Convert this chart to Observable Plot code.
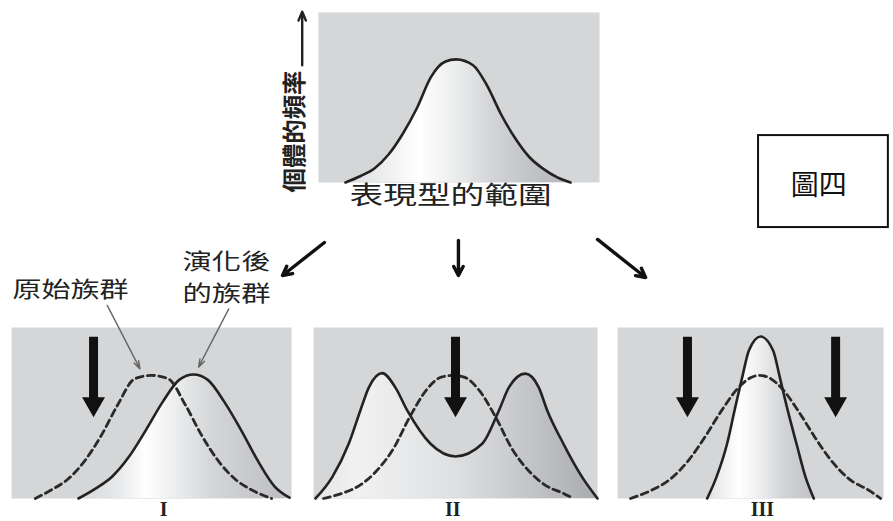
<!DOCTYPE html>
<html>
<head>
<meta charset="utf-8">
<script src="https://cdn.jsdelivr.net/npm/d3@7"></script>
<script src="https://cdn.jsdelivr.net/npm/@observablehq/plot@0.6"></script>
<style>
  body { margin: 0; background: #fff; }
  #chart { position: relative; width: 893px; height: 521px; overflow: hidden; background: #fff; }
  #chart svg { position: absolute; left: 0; top: 0; }
</style>
</head>
<body>
<div id="chart"></div>
<script>
// ---------------- data ----------------
const yLabel = "個體的頻率";
const xLabel = "表現型的範圍";
const figLabel = "圖四";
const origLabel = "原始族群";
const evolvedLabel1 = "演化後";
const evolvedLabel2 = "的族群";
const panelLabels = ["I", "II", "III"];

// top panel: phenotype range (0-100) vs frequency (0-100)
const topX = [9.6, 15, 20, 25, 30, 35, 40, 45, 49, 55, 60, 65, 70, 75, 80, 85, 89.7];
const topY = [0, 3.8, 8.4, 16.6, 28.7, 43.7, 62, 71, 72.4, 69, 57, 40, 26, 15, 8, 3, 0];

// panel I (directional selection)
const p1DashX = [8.5, 14, 20, 26, 32, 38, 44, 50, 56, 62, 68, 74, 80, 86, 92.9];
const p1DashY = [0, 4.8, 11.1, 21.7, 36.7, 55, 70, 72, 70, 55, 36.7, 21.7, 11.1, 4.8, 0];
const p1SolidX = [23.9, 30, 36, 42, 48, 54, 60, 65, 70, 76, 82, 88, 94, 99.3];
const p1SolidY = [0, 5.8, 12.9, 24.5, 40, 56.5, 69.5, 72.5, 69.5, 56.5, 40, 22, 7, 0.5];
const p1ArrowX = [29.3];

// panel II (disruptive selection)
const p2DashX = [3.5, 10, 16, 22, 28, 34, 40, 45, 49, 53, 58, 64, 70, 76, 82, 88, 91.5];
const p2DashY = [0, 3, 7.4, 15.8, 28.8, 48, 64, 71, 72, 71, 64, 48, 28.8, 15.8, 7.4, 3, 0];
const p2SolidX = [0.7, 6.6, 12.4, 16.5, 19.5, 24.2, 28.8, 33, 41.2, 50, 59.4, 65.3, 68.8, 74.6, 79.3, 82.3, 88, 94.6, 100];
const p2SolidY = [0, 12.5, 32, 51.5, 65, 73.3, 65, 51.5, 32, 24.6, 32, 51.5, 65, 73, 65, 51.5, 32, 12.5, 0];
const p2ArrowX = [50];

// panel III (stabilizing selection)
const p3DashX = [4.9, 12, 20, 27, 33, 39, 45, 50, 53.5, 57, 62, 68, 74, 80, 87, 95, 98.9];
const p3DashY = [0, 4.3, 11.5, 22.9, 36.3, 51.1, 64, 70.6, 72, 70.6, 64, 51.1, 36.3, 22.9, 11.5, 4.3, 0];
const p3SolidX = [33.7, 37.2, 41.2, 44, 46.9, 49.4, 53.8, 58.5, 61, 64, 67.3, 70.7, 73.8];
const p3SolidY = [0, 12.5, 32, 51.5, 71, 86.5, 94.7, 86.5, 71, 51.5, 32, 12.5, 0];
const p3ArrowX = [26.3, 82];

// ---------------- styles ----------------
const BG = "#d4d6d8";
const INK = "#222";
const CJK = "'Noto Sans CJK TC', 'Noto Sans CJK SC', sans-serif";
const SERIF = "'Liberation Serif', 'DejaVu Serif', serif";
const CURVE = "monotone-x";

const gradients = {
  gTop: [[0, "#d8dadb"], [0.22, "#f3f3f3"], [0.33, "#ffffff"], [0.5, "#ebeced"], [0.62, "#d6d8da"], [0.8, "#c3c5c8"], [1, "#b4b6b9"]],
  gI:   [[0, "#d5d7d9"], [0.2, "#e8e9ea"], [0.32, "#ffffff"], [0.45, "#eeeff0"], [0.62, "#d5d7d9"], [1, "#babcbf"]],
  gII:  [[0, "#e3e4e6"], [0.15, "#f1f1f2"], [0.32, "#e8e9ea"], [0.5, "#dddfe1"], [0.7, "#c9cbce"], [1, "#a9abae"]],
  gIII: [[0, "#e0e1e3"], [0.3, "#ffffff"], [0.5, "#eeeeef"], [0.72, "#d2d4d6"], [1, "#bfc1c4"]]
};

const textLengths = {
  [xLabel]: 202, [yLabel]: 122, [origLabel]: 116, [evolvedLabel1]: 88, [evolvedLabel2]: 88
};

const pts = (xs, ys) => xs.map((x, i) => ({x, y: ys[i]}));

function base(left, right, top, bottom) {
  return {
    width: 893, height: 521,
    marginLeft: left, marginRight: 893 - right, marginTop: top, marginBottom: 521 - bottom,
    x: {domain: [0, 100], axis: null},
    y: {domain: [0, 100], axis: null},
    style: "position:absolute;left:0;top:0;background:transparent;overflow:visible;"
  };
}

function addGradient(svg, id) {
  const defs = d3.select(svg).insert("defs", ":first-child");
  const g = defs.append("linearGradient").attr("id", id)
    .attr("x1", 0).attr("x2", 1).attr("y1", 0).attr("y2", 0);
  for (const [o, c] of gradients[id]) g.append("stop").attr("offset", o).attr("stop-color", c);
}

function thickArrows(xs) {
  return [
    Plot.ruleX(xs, {x: d => d, y1: 94.3, y2: 58, stroke: "#111", strokeWidth: 9}),
    Plot.dot(xs, {x: d => d, y: 55.3, symbol: "triangle", r: 8.5, rotate: 180, fill: "#111", stroke: "none"})
  ];
}

function curves(dash, solid, grad) {
  return [
    Plot.frame({fill: BG, stroke: "none"}),
    Plot.areaY(solid, {x: "x", y: "y", fill: `url(#${grad})`, curve: CURVE}),
    Plot.line(dash, {x: "x", y: "y", stroke: "#2a2a2a", strokeWidth: 2.8, strokeDasharray: "7,4.5", curve: CURVE}),
    Plot.line(solid, {x: "x", y: "y", stroke: INK, strokeWidth: 2.6, curve: CURVE})
  ];
}

const romanOpts = {text: d => d, fontFamily: SERIF, fontWeight: "bold", fontSize: 20, fill: INK};

// ---------------- top panel ----------------
const topPlot = Plot.plot({
  ...base(318, 599, 12, 182),
  marks: [
    Plot.frame({fill: BG, stroke: "none"}),
    Plot.areaY(pts(topX, topY), {x: "x", y: "y", fill: "url(#gTop)", curve: CURVE}),
    Plot.line(pts(topX, topY), {x: "x", y: "y", stroke: INK, strokeWidth: 2.6, curve: CURVE}),
    Plot.text([yLabel], {x: -8.2, y: 30, text: d => d, rotate: -90, fontFamily: CJK, fontWeight: "bold", fontSize: 24, fill: INK}),
    Plot.arrow([0], {x1: -5.8, y1: 69, x2: -5.8, y2: 100.5, stroke: INK, strokeWidth: 2.4, headLength: 6, headAngle: 45}),
    Plot.text([xLabel], {x: 47, y: -7.8, text: d => d, fontFamily: CJK, fontSize: 25, fill: INK}),
    // diverging arrows towards the three outcomes
    Plot.arrow([0], {x1: 2.1, y1: -35.3, x2: -12.8, y2: -54.7, stroke: "#111", strokeWidth: 3.4, headLength: 4.5, headAngle: 55}),
    Plot.arrow([0], {x1: 49.8, y1: -34.1, x2: 49.8, y2: -54.7, stroke: "#111", strokeWidth: 3.4, headLength: 4.5, headAngle: 55}),
    Plot.arrow([0], {x1: 99.3, y1: -33.5, x2: 116.4, y2: -55.9, stroke: "#111", strokeWidth: 3.4, headLength: 4.5, headAngle: 55}),
    // figure label box
    Plot.rect([0], {x1: 156.6, x2: 202.8, y1: 27.6, y2: -26.5, fill: "#fff", stroke: "#111", strokeWidth: 2}),
    Plot.text([figLabel], {x: 178, y: -1.8, text: d => d, fontFamily: CJK, fontSize: 28, fill: "#111"})
  ]
});
addGradient(topPlot, "gTop");

// ---------------- panel I ----------------
const p1 = Plot.plot({
  ...base(11, 291, 327, 498),
  marks: [
    ...curves(pts(p1DashX, p1DashY), pts(p1SolidX, p1SolidY), "gI"),
    ...thickArrows(p1ArrowX),
    Plot.arrow([0], {x1: 34.2, y1: 112.9, x2: 45.9, y2: 75.8, stroke: "#666", strokeWidth: 1.4, headLength: 9, headAngle: 35}),
    Plot.arrow([0], {x1: 77.6, y1: 110.9, x2: 66.8, y2: 76.8, stroke: "#666", strokeWidth: 1.4, headLength: 9, headAngle: 35}),
    Plot.text([origLabel], {x: 21.1, y: 122.2, text: d => d, fontFamily: CJK, fontSize: 22, fill: INK}),
    Plot.text([evolvedLabel1 + "\n" + evolvedLabel2], {x: 76.8, y: 131, text: d => d, lineHeight: 1.46, fontFamily: CJK, fontSize: 22, fill: INK}),
    Plot.text([panelLabels[0]], {x: 54.3, y: -6.2, ...romanOpts})
  ]
});
addGradient(p1, "gI");

// ---------------- panel II ----------------
const p2 = Plot.plot({
  ...base(313, 597, 327, 498),
  marks: [
    ...curves(pts(p2DashX, p2DashY), pts(p2SolidX, p2SolidY), "gII"),
    ...thickArrows(p2ArrowX),
    Plot.text([panelLabels[1]], {x: 49, y: -6.2, ...romanOpts})
  ]
});
addGradient(p2, "gII");

// ---------------- panel III ----------------
const p3 = Plot.plot({
  ...base(617, 883, 327, 498),
  marks: [
    ...curves(pts(p3DashX, p3DashY), pts(p3SolidX, p3SolidY), "gIII"),
    ...thickArrows(p3ArrowX),
    Plot.text([panelLabels[2]], {x: 54.5, y: -6.2, ...romanOpts})
  ]
});
addGradient(p3, "gIII");

const chart = document.getElementById("chart");
for (const p of [p1, p2, p3, topPlot]) chart.appendChild(p);

// stretch the wide CJK labels like the reference typesetting
d3.select(chart).selectAll("text, tspan").each(function () {
  const len = textLengths[this.textContent];
  if (len) d3.select(this).attr("textLength", len).attr("lengthAdjust", "spacingAndGlyphs");
});
</script>
</body>
</html>
